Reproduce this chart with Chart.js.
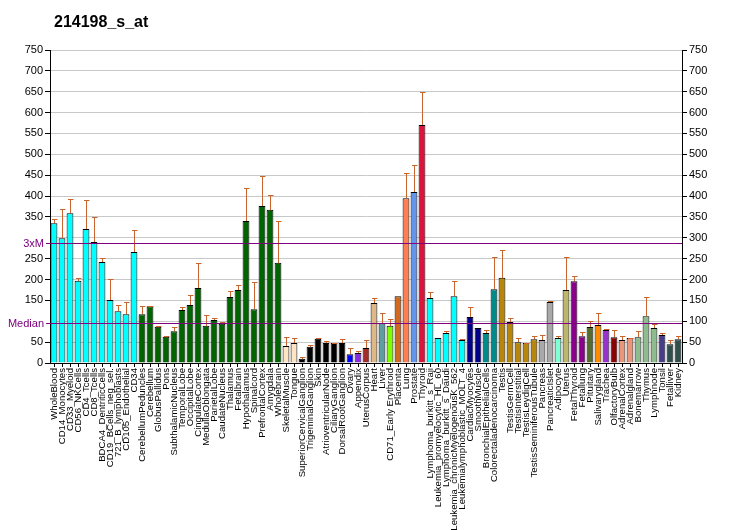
<!DOCTYPE html>
<html>
<head>
<meta charset="utf-8">
<script src="https://cdn.jsdelivr.net/npm/chart.js@4.4.1/dist/chart.umd.min.js"></script>
<style>
    html, body { margin: 0; padding: 0; background: #fff; }
    #wrap { width: 732px; height: 530px; position: relative; }
</style>
</head>
<body>
<div id="wrap"><canvas id="exprChart" width="732" height="530"></canvas></div>
<script>
// Chart data
const chartTitle = "214198_s_at";

const tissues = [
    "WholeBlood", "CD14_Monocytes", "CD33_Myeloid", "CD56_NKCells", "CD4_Tcells",
    "CD8_Tcells", "BDCA4_DentriticCells", "CD19_BCells_neg_sel.", "721_B_lymphoblasts", "CD105_Endothelial",
    "CD34", "CerebellumPeduncles", "Cerebellum", "GlobusPallidus", "Pons",
    "SubthalamicNucleus", "TemporalLobe", "OccipitalLobe", "CingulateCortex", "MedullaOblongata",
    "ParietalLobe", "CaudateNucleus", "Thalamus", "Fetalbrain", "Hypothalamus",
    "Spinalcord", "PrefrontalCortex", "Amygdala", "Wholebrain", "SkeletalMuscle",
    "Tongue", "SuperiorCervicalGanglion", "TrigeminalGanglion", "Skin", "AtrioventricularNode",
    "CiliaryGanglion", "DorsalRootGanglion", "Ovary", "Appendix", "UterusCorpus",
    "Heart", "Liver", "CD71_Early Erythroid", "Placenta", "Lung",
    "Prostate", "Thyroid", "Lymphoma_burkitt_s_Raji", "Leukemia_promyelocytic_HL_60", "Lymphoma_burkitt_s_Daudi",
    "Leukemia_chronicMyelogenousK_562", "Leukemialymphoblastic_MOLT_4", "CardiacMyocytes", "SmoothMuscle", "BronchialEpithelialCells",
    "Colorectaladenocarcinoma", "Testis", "TestisGermCell", "TestisInterstitial", "TestisLeydigCell",
    "TestisSeminiferousTubule", "Pancreas", "PancreaticIslet", "Adipocyte", "Uterus",
    "FetalThyroid", "Fetallung", "Pituitary", "Salivarygland", "Trachea",
    "OlfactoryBulb", "AdrenalCortex", "Adrenalgland", "Bonemarrow", "Thymus",
    "Lymphnode", "Tonsil", "Fetalliver", "Kidney"
];

const values = [
    335, 299, 359, 197, 321, 290, 242, 151, 124, 117,
    266, 117, 136, 87, 63, 76, 127, 139, 180, 89,
    103, 94, 158, 175, 340, 129, 376, 367, 240, 41,
    48, 10, 39, 58, 48, 48, 48, 21, 24, 36,
    144, 96, 89, 160, 395, 410, 570, 156, 60, 72,
    160, 55, 110, 84, 72, 177, 204, 98, 50, 48,
    57, 55, 146, 60, 175, 196, 64, 86, 91, 79,
    62, 55, 60, 62, 112, 84, 67, 45, 57
];

// upper end of each error bar
const errUpper = [
    345, 369, 393, 203, 390, 350, 251, 201, 139, 146,
    319, 136, 137, 88, 64, 86, 134, 163, 240, 115,
    108, 98, 172, 187, 419, 194, 448, 403, 340, 62,
    60, 14, 43, 59, 52, 49, 57, 36, 28, 55,
    156, 120, 105, 160, 455, 474, 649, 169, 60, 76,
    196, 57, 134, 84, 79, 254, 271, 108, 60, 49,
    64, 67, 148, 64, 254, 208, 74, 100, 120, 81,
    79, 64, 61, 76, 158, 93, 72, 55, 64
];

const yTicks = [0, 50, 100, 150, 200, 250, 300, 350, 400, 450, 500, 550, 600, 650, 700, 750];
const medianValue = 96;
const threeXMValue = 288;

// bar fill colours, one per tissue
const barColors = [
    "#00FFFF", "#00FFFF", "#00FFFF", "#00FFFF", "#00FFFF", "#00FFFF", "#00FFFF", "#00FFFF", "#00FFFF", "#00FFFF",
    "#00FFFF", "#006400", "#006400", "#006400", "#006400", "#006400", "#006400", "#006400", "#006400", "#006400",
    "#006400", "#006400", "#006400", "#006400", "#006400", "#006400", "#006400", "#006400", "#006400", "#FFE4C4",
    "#FFE4C4", "#000000", "#000000", "#000000", "#000000", "#000000", "#000000", "#0000FF", "#8A2BE2", "#A52A2A",
    "#DEB887", "#5F9EA0", "#7FFF00", "#D2691E", "#FF7F50", "#6495ED", "#DC143C", "#00FFFF", "#00FFFF", "#00FFFF",
    "#00FFFF", "#00FFFF", "#00008B", "#00008B", "#008B8B", "#008B8B", "#B8860B", "#B8860B", "#B8860B", "#B8860B",
    "#B8860B", "#A9A9A9", "#A9A9A9", "#7FFFD4", "#BDB76B", "#8B008B", "#8B008B", "#556B2F", "#FF8C00", "#9932CC",
    "#8B0000", "#E9967A", "#E9967A", "#8FBC8F", "#8FBC8F", "#8FBC8F", "#483D8B", "#2F4F4F", "#2F4F4F"
];

const FONT = "'Liberation Sans', Arial, sans-serif";
const REF_COLOR = "#800080";
const ERR_COLOR = "#C8642C";

// Draws title, error bars and the median / 3xM lines
const overlayPlugin = {
    id: 'overlay',
    afterDatasetsDraw(chart) {
        const ctx = chart.ctx;
        const x = chart.scales.x;
        const y = chart.scales.y;
        const area = chart.chartArea;

        // error bars (upper only)
        ctx.save();
        ctx.strokeStyle = ERR_COLOR;
        ctx.lineWidth = 1;
        values.forEach((v, i) => {
            if (errUpper[i] <= v) return;
            const px = Math.round(x.getPixelForValue(i)) + 0.5;
            const yTop = Math.round(y.getPixelForValue(v));
            const yErr = Math.round(y.getPixelForValue(errUpper[i])) + 0.5;
            ctx.beginPath();
            ctx.moveTo(px, yTop);
            ctx.lineTo(px, yErr);
            ctx.moveTo(px - 2.5, yErr);
            ctx.lineTo(px + 3, yErr);
            ctx.stroke();
        });

        // reference lines
        ctx.strokeStyle = REF_COLOR;
        ctx.fillStyle = REF_COLOR;
        ctx.font = "11px " + FONT;
        ctx.textAlign = "right";
        ctx.textBaseline = "middle";
        [[medianValue, "Median"], [threeXMValue, "3xM"]].forEach(([val, txt]) => {
            const py = Math.round(y.getPixelForValue(val)) + 0.5;
            ctx.beginPath();
            ctx.moveTo(area.left - 4, py);
            ctx.lineTo(area.right, py);
            ctx.stroke();
            ctx.fillText(txt, area.left - 6, py);
        });

        // title
        ctx.fillStyle = "#000";
        ctx.font = "bold 16px " + FONT;
        ctx.textAlign = "left";
        ctx.textBaseline = "alphabetic";
        ctx.fillText(chartTitle, 54, 27);
        ctx.restore();
    }
};

function fixedTicks(scale) {
    scale.ticks = yTicks.map(v => ({ value: v }));
}

const ctx = document.getElementById('exprChart').getContext('2d');
new Chart(ctx, {
    type: 'bar',
    data: {
        labels: tissues,
        datasets: [{
            data: values,
            backgroundColor: barColors,
            borderColor: "#000",
            borderWidth: 1,
            barPercentage: 0.85,
            categoryPercentage: 1.0
        }]
    },
    options: {
        responsive: false,
        animation: false,
        devicePixelRatio: 1,
        layout: { padding: { top: 50, left: 0, right: 0, bottom: 0 } },
        plugins: {
            legend: { display: false },
            tooltip: { enabled: false },
            title: { display: false }
        },
        scales: {
            x: {
                offset: true,
                grid: {
                    offset: false,
                    drawOnChartArea: false,
                    color: "#000",
                    tickLength: 4
                },
                border: { color: "#000" },
                ticks: {
                    autoSkip: false,
                    maxRotation: 90,
                    minRotation: 90,
                    padding: 1,
                    color: "#000",
                    font: { family: FONT, size: 9.6 }
                },
                afterFit(scale) { scale.height = 167; }
            },
            y: {
                position: 'left',
                min: 0,
                max: 750,
                afterBuildTicks: fixedTicks,
                grid: {
                    color: "#C8C8C8",
                    tickColor: (c) => (c.tick && (c.tick.value === 100 || c.tick.value === 300)) ? "rgba(0,0,0,0)" : "#000",
                    tickLength: 5
                },
                border: { color: "#000" },
                ticks: {
                    padding: 2,
                    color: "#000",
                    font: { family: FONT, size: 11 },
                    callback: (v) => (v === 100 || v === 300) ? "" : String(v)
                },
                afterFit(scale) { scale.width = 50; }
            },
            y2: {
                position: 'right',
                min: 0,
                max: 750,
                afterBuildTicks: fixedTicks,
                grid: {
                    drawOnChartArea: false,
                    color: "#000",
                    tickLength: 5
                },
                border: { color: "#000" },
                ticks: {
                    padding: 2,
                    color: "#000",
                    font: { family: FONT, size: 11 }
                },
                afterFit(scale) { scale.width = 50; }
            }
        }
    },
    plugins: [overlayPlugin]
});
</script>
</body>
</html>
